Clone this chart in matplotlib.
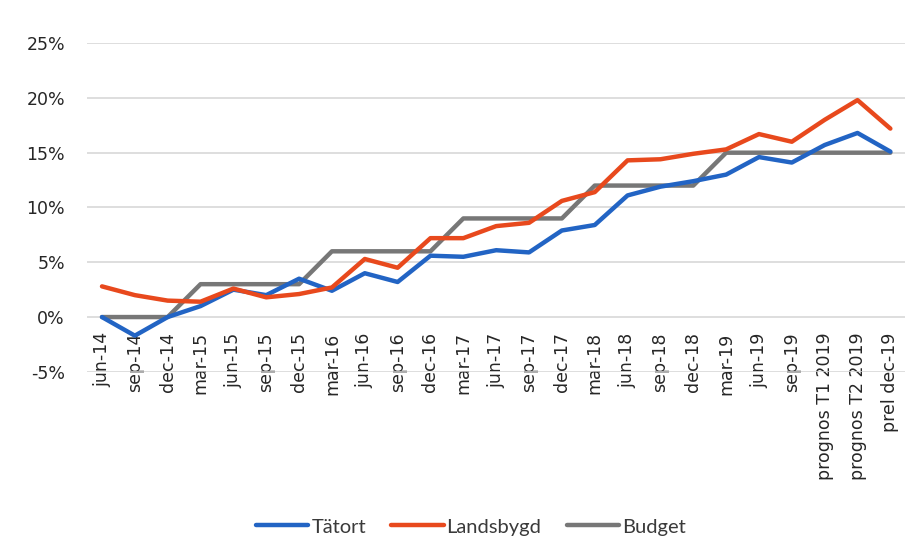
import matplotlib
matplotlib.use("Agg")
import matplotlib.pyplot as plt
from matplotlib.ticker import FuncFormatter

# category labels along the x axis
periods = ["jun-14", "sep-14", "dec-14", "mar-15", "jun-15", "sep-15", "dec-15",
           "mar-16", "jun-16", "sep-16", "dec-16", "mar-17", "jun-17", "sep-17",
           "dec-17", "mar-18", "jun-18", "sep-18", "dec-18", "mar-19", "jun-19",
           "sep-19", "prognos T1 2019", "prognos T2 2019", "prel dec-19"]

# values in percent
tatort = [0.0, -1.7, 0.0, 1.0, 2.5, 2.0, 3.5, 2.4, 4.0, 3.2, 5.6, 5.5, 6.1,
          5.9, 7.9, 8.4, 11.1, 11.9, 12.4, 13.0, 14.6, 14.1, 15.7, 16.8, 15.1]
landsbygd = [2.8, 2.0, 1.5, 1.4, 2.6, 1.8, 2.1, 2.7, 5.3, 4.5, 7.2, 7.2, 8.3,
             8.6, 10.6, 11.4, 14.3, 14.4, 14.9, 15.3, 16.7, 16.0, 18.0, 19.8, 17.2]
budget = [0.0, 0.0, 0.0, 3.0, 3.0, 3.0, 3.0, 6.0, 6.0, 6.0, 6.0, 9.0, 9.0,
          9.0, 9.0, 12.0, 12.0, 12.0, 12.0, 15.0, 15.0, 15.0, 15.0, 15.0, 15.0]

yticks = [-5, 0, 5, 10, 15, 20, 25]


def main():
    plt.rcParams["font.family"] = ["DejaVu Sans"]
    x = list(range(len(periods)))

    fig = plt.figure(figsize=(9.18, 5.6), dpi=100)
    ax = fig.add_axes([0.095, 0.336, 0.891, 0.587])

    ax.plot(x, tatort, color="#2264c4", lw=3.2, label="Tätort", solid_capstyle="round", zorder=3)
    ax.plot(x, landsbygd, color="#e8491d", lw=3.2, label="Landsbygd", solid_capstyle="round", zorder=3)
    ax.plot(x, budget, color="#777777", lw=3.2, label="Budget", solid_capstyle="round", zorder=2)

    ax.set_xlim(-0.45, len(x) - 0.55)
    ax.set_ylim(-5, 25)
    ax.set_yticks(yticks)
    ax.yaxis.set_major_formatter(FuncFormatter(lambda v, _: f"{v:.0f}%"))
    ax.grid(axis="y", color="#d4d4d4", lw=1.1)
    ax.set_axisbelow(True)

    # category labels hang from the 0% line, like the Excel original
    ax.spines["bottom"].set_position(("data", 0))
    for s in ax.spines.values():
        s.set_visible(False)
    ax.set_xticks(x)
    ax.set_xticklabels(periods, rotation=90, va="top", ha="center")
    ax.tick_params(axis="x", length=0, pad=11, labelsize=12.5, labelcolor="#262626")
    ax.tick_params(axis="y", length=0, pad=16, labelsize=12.5, labelcolor="#262626")

    fig.legend(loc="center", bbox_to_anchor=(0.513, 0.059), ncol=3, frameon=False,
               prop={"family": ["Lato", "DejaVu Sans"], "size": 14.5},
               handlelength=2.6, handletextpad=0.15, columnspacing=1.25, labelcolor="#3a3a3a")

    fig.savefig("out.png", dpi=100)
    plt.close(fig)


if __name__ == "__main__":
    main()
